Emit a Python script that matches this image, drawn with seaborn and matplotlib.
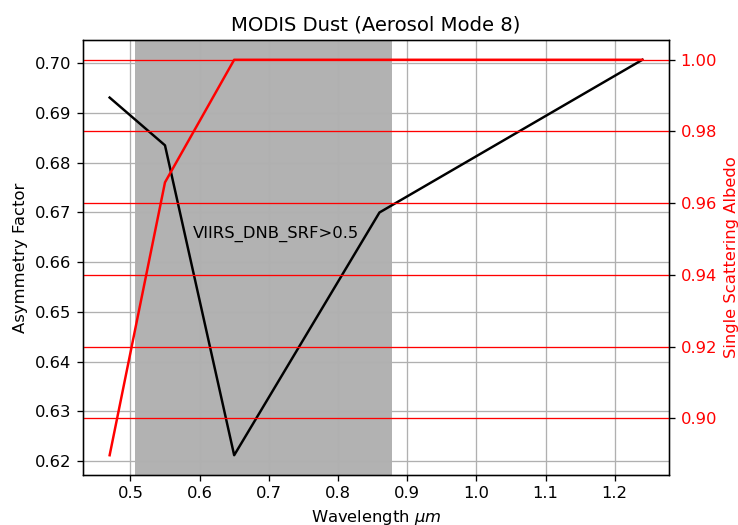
import matplotlib
matplotlib.use("Agg")
import matplotlib.pyplot as plt
import seaborn as sns

wavelength = [0.47, 0.55, 0.65, 0.86, 1.24]
asymmetry = [0.6931, 0.6835, 0.6212, 0.6700, 0.7007]
ssa = [0.8897, 0.9658, 1.0, 1.0, 1.0]
span_lo, span_hi = 0.507, 0.878

dpi = 118
fig = plt.figure(figsize=(738 / dpi, 525 / dpi), dpi=dpi)
ax = fig.add_axes([83 / 738, 50 / 525, 586 / 738, 435 / 525])

ax.axvspan(span_lo, span_hi, color="gray", alpha=0.6, lw=0)
sns.lineplot(x=wavelength, y=asymmetry, ax=ax, color="k", sort=False)
ax.grid(True)
ax.set_xlabel(r"Wavelength $\mu m$")
ax.set_ylabel("Asymmetry Factor")
ax.set_title("MODIS Dust (Aerosol Mode 8)")
ax.text(0.59, 0.665, "VIIRS_DNB_SRF>0.5")

ax2 = ax.twinx()
sns.lineplot(x=wavelength, y=ssa, ax=ax2, color="r", sort=False)
ax2.grid(True, axis="y", color="r")
ax2.set_ylabel("Single Scattering Albedo", color="r")
ax2.tick_params(axis="y", labelcolor="r")

fig.savefig("out.png", dpi=dpi)
